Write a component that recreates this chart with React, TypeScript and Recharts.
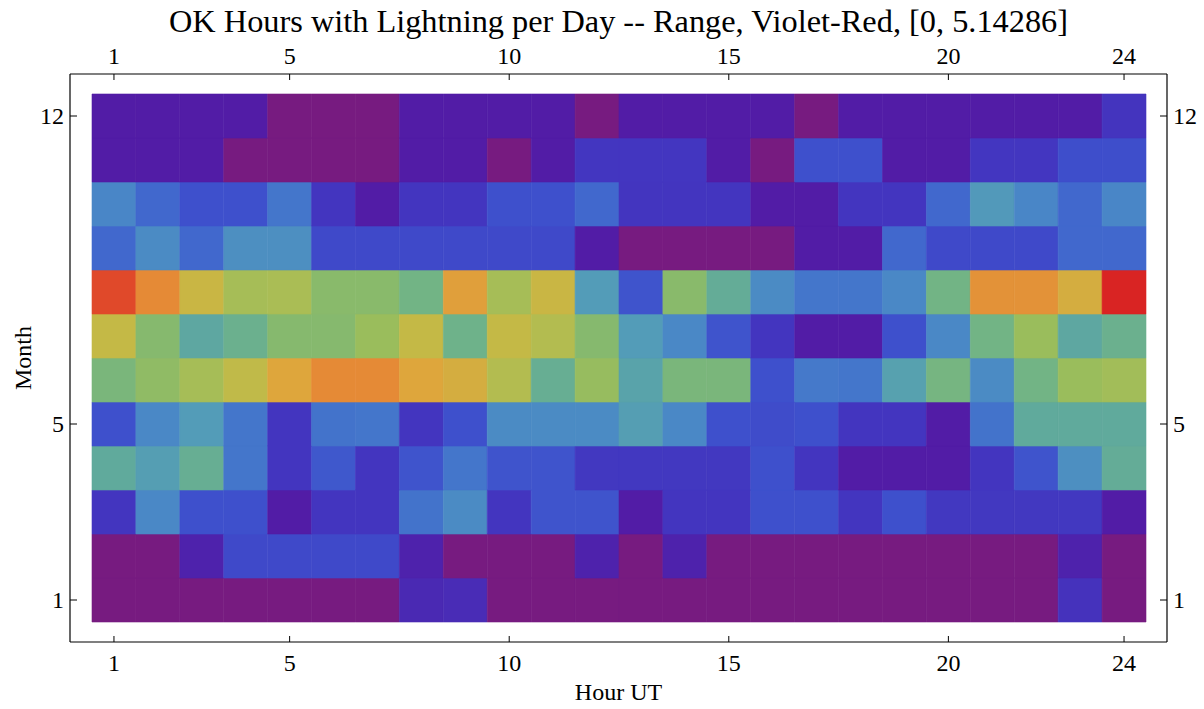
import React from "react";
import { ScatterChart, Scatter, XAxis, YAxis, ReferenceArea } from "recharts";

const TITLE = "OK Hours with Lightning per Day -- Range, Violet-Red, [0, 5.14286]";
const RANGE_MAX = 5.14286;

const HOURS = [1, 2, 3, 4, 5, 6, 7, 8, 9, 10, 11, 12, 13, 14, 15, 16, 17, 18, 19, 20, 21, 22, 23, 24];
const MONTHS = [1, 2, 3, 4, 5, 6, 7, 8, 9, 10, 11, 12];
const X_TICKS = [1, 5, 10, 15, 20, 24];
const Y_TICKS = [1, 5, 12];

// hours with lightning per day, one entry per UT hour (1..24)
const JAN = [0, 0, 0, 0, 0, 0, 0, 0.62, 0.67, 0, 0, 0, 0, 0, 0, 0, 0, 0, 0, 0, 0, 0, 0.77, 0];
const FEB = [0, 0, 0.51, 1.13, 1.13, 1.13, 1.13, 0.51, 0, 0, 0, 0.51, 0, 0.51, 0, 0, 0, 0, 0, 0, 0, 0, 0.51, 0];
const MAR = [0.82, 2.11, 1.23, 1.23, 0.41, 0.82, 0.82, 1.7, 2.16, 0.82, 1.29, 1.29, 0.41, 0.82, 0.82, 1.23, 1.23, 0.82, 1.23, 0.87, 0.87, 0.87, 0.87, 0.41];
const APR = [2.73, 2.47, 2.83, 1.75, 0.82, 1.34, 0.82, 1.29, 1.75, 1.29, 1.29, 0.87, 0.87, 0.87, 0.87, 1.23, 0.82, 0.41, 0.41, 0.41, 0.82, 1.29, 2.21, 2.78];
const MAY = [1.23, 2.11, 2.42, 1.75, 0.82, 1.7, 1.75, 0.82, 1.23, 2.16, 2.16, 2.16, 2.47, 2.11, 1.23, 1.18, 1.23, 0.82, 0.82, 0.41, 1.7, 2.73, 2.73, 2.73];
const JUN = [3.09, 3.39, 3.7, 4.01, 4.32, 4.53, 4.53, 4.32, 4.22, 3.86, 2.83, 3.5, 2.57, 3.09, 3.09, 1.23, 1.8, 1.75, 2.52, 3.03, 2.16, 2.98, 3.55, 3.65];
const JUL = [4.06, 3.24, 2.67, 2.88, 3.24, 3.24, 3.55, 4.06, 2.93, 4.06, 3.86, 3.24, 2.42, 2.11, 1.29, 0.82, 0.41, 0.41, 1.23, 2.11, 2.98, 3.55, 2.67, 2.88];
const AUG = [4.94, 4.53, 4.11, 3.7, 3.75, 3.29, 3.29, 2.98, 4.37, 3.7, 4.11, 2.42, 1.29, 3.29, 2.78, 2.16, 1.75, 1.75, 2.11, 2.98, 4.47, 4.47, 4.22, 5.14];
const SEP = [1.54, 2.16, 1.54, 2.21, 2.21, 1.13, 1.13, 1.13, 1.13, 1.13, 1.13, 0.41, 0, 0, 0, 0, 0.41, 0.41, 1.54, 1.13, 1.13, 1.13, 1.54, 1.54];
const OCT = [2.06, 1.54, 1.23, 1.23, 1.75, 0.82, 0.41, 0.82, 0.82, 1.23, 1.23, 1.54, 0.82, 0.82, 0.82, 0.41, 0.41, 0.82, 0.82, 1.54, 2.37, 2.06, 1.54, 2.06];
const NOV = [0.41, 0.41, 0.41, 0, 0, 0, 0, 0.41, 0.41, 0, 0.41, 0.84, 0.84, 0.84, 0.41, 0, 1.23, 1.23, 0.41, 0.41, 0.84, 0.84, 1.2, 1.2];
const DEC = [0.41, 0.41, 0.41, 0.41, 0, 0, 0, 0.41, 0.41, 0.41, 0.41, 0, 0.41, 0.41, 0.41, 0.41, 0, 0.41, 0.41, 0.41, 0.41, 0.41, 0.41, 0.8];
const BY_MONTH = [JAN, FEB, MAR, APR, MAY, JUN, JUL, AUG, SEP, OCT, NOV, DEC];

// violet -> red gradient, positions as fraction of the range
const STOPS: [number, string][] = [
  [0, "#771b80"],
  [0.08, "#521ca6"],
  [0.16, "#4335bf"],
  [0.24, "#3e50cc"],
  [0.3, "#4168cd"],
  [0.34, "#4476cb"],
  [0.41, "#4a88c6"],
  [0.47, "#539cb8"],
  [0.53, "#60aa9c"],
  [0.58, "#72b485"],
  [0.63, "#86b96e"],
  [0.69, "#9abd5c"],
  [0.73, "#aabd55"],
  [0.79, "#c4b946"],
  [0.84, "#dea63c"],
  [0.88, "#e58b36"],
  [0.96, "#e04a2a"],
  [1, "#d92323"],
];

const hex = (c: string) => [1, 3, 5].map((i) => parseInt(c.slice(i, i + 2), 16));

function colorFor(v: number) {
  const t = Math.min(1, Math.max(0, v / RANGE_MAX));
  for (let i = 1; i < STOPS.length; i++) {
    const [t1, c1] = STOPS[i];
    if (t <= t1) {
      const [t0, c0] = STOPS[i - 1];
      const k = (t - t0) / (t1 - t0);
      const a = hex(c0);
      const b = hex(c1);
      return `rgb(${a.map((x, j) => Math.round(x + (b[j] - x) * k)).join(",")})`;
    }
  }
  return STOPS[STOPS.length - 1][1];
}

const cells = MONTHS.flatMap((m, i) =>
  HOURS.map((h, j) => ({ hour: h, month: m, value: BY_MONTH[i][j] }))
);

const FONT = '"Liberation Serif", "Times New Roman", serif';

function AxisTick(props: any) {
  const { x, y, payload, side } = props;
  const v = payload.value;
  if (side === "bottom")
    return (
      <g>
        <line x1={x} y1={y} x2={x} y2={y - 6} stroke="#000" />
        <text x={x} y={y + 29} textAnchor="middle" fontSize={24} fontFamily={FONT} fill="#000">{v}</text>
      </g>
    );
  if (side === "top")
    return (
      <g>
        <line x1={x} y1={y} x2={x} y2={y + 6} stroke="#000" />
        <text x={x} y={y - 10} textAnchor="middle" fontSize={24} fontFamily={FONT} fill="#000">{v}</text>
      </g>
    );
  if (side === "left")
    return (
      <g>
        <line x1={x} y1={y} x2={x + 7} y2={y} stroke="#000" />
        <text x={x - 6} y={y + 8} textAnchor="end" fontSize={24} fontFamily={FONT} fill="#000">{v}</text>
      </g>
    );
  return (
    <g>
      <line x1={x} y1={y} x2={x - 7} y2={y} stroke="#000" />
      <text x={x + 6} y={y + 8} textAnchor="start" fontSize={24} fontFamily={FONT} fill="#000">{v}</text>
    </g>
  );
}

export default function App() {
  const xPad = { left: 22, right: 21 };
  const yPad = { top: 20, bottom: 20 };
  return (
    <div style={{ position: "absolute", left: 0, top: 0, background: "#fff" }}>
      <ScatterChart width={1204} height={709} margin={{ top: 0, right: 0, bottom: 0, left: 0 }}>
        <XAxis
          xAxisId="b"
          type="number"
          dataKey="hour"
          orientation="bottom"
          height={67}
          domain={[0.5, 24.5]}
          ticks={X_TICKS}
          interval={0}
          padding={xPad}
          axisLine={{ stroke: "#000", strokeWidth: 1.2 }}
          tickLine={false}
          tickSize={0}
          tickMargin={0}
          tick={(p: any) => <AxisTick {...p} side="bottom" />}
          label={{ value: "Hour UT", position: "insideBottom", offset: 9, fontSize: 24, fontFamily: FONT, fill: "#000" }}
        />
        <XAxis
          xAxisId="t"
          type="number"
          dataKey="hour"
          orientation="top"
          height={74}
          domain={[0.5, 24.5]}
          ticks={X_TICKS}
          interval={0}
          padding={xPad}
          axisLine={{ stroke: "#000", strokeWidth: 1.2 }}
          tickLine={false}
          tickSize={0}
          tickMargin={0}
          tick={(p: any) => <AxisTick {...p} side="top" />}
          label={{ value: TITLE, position: "insideTop", offset: 10, fontSize: 31, fontFamily: FONT, fill: "#000", textLength: 899, lengthAdjust: "spacingAndGlyphs" }}
        />
        <YAxis
          yAxisId="l"
          type="number"
          dataKey="month"
          orientation="left"
          width={70}
          domain={[0.5, 12.5]}
          ticks={Y_TICKS}
          interval={0}
          padding={yPad}
          axisLine={{ stroke: "#000", strokeWidth: 1.2 }}
          tickLine={false}
          tickSize={0}
          tickMargin={0}
          tick={(p: any) => <AxisTick {...p} side="left" />}
          label={{ value: "Month", angle: -90, position: "insideLeft", offset: 22, fontSize: 24, fontFamily: FONT, fill: "#000", style: { textAnchor: "middle" } }}
        />
        <YAxis
          yAxisId="r"
          type="number"
          dataKey="month"
          orientation="right"
          width={37}
          domain={[0.5, 12.5]}
          ticks={Y_TICKS}
          interval={0}
          padding={yPad}
          axisLine={{ stroke: "#000", strokeWidth: 1.2 }}
          tickLine={false}
          tickSize={0}
          tickMargin={0}
          tick={(p: any) => <AxisTick {...p} side="right" />}
        />
        {cells.map((c) => {
          const col = colorFor(c.value);
          return (
            <ReferenceArea
              key={`${c.month}-${c.hour}`}
              xAxisId="b"
              yAxisId="l"
              x1={c.hour - 0.5}
              x2={c.hour + 0.5}
              y1={c.month - 0.5}
              y2={c.month + 0.5}
              fill={col}
              fillOpacity={1}
              stroke={col}
              strokeWidth={0.6}
            />
          );
        })}
        <Scatter data={cells} xAxisId="b" yAxisId="l" isAnimationActive={false} shape={() => <g />} />
        <Scatter data={cells} xAxisId="t" yAxisId="r" isAnimationActive={false} shape={() => <g />} />
      </ScatterChart>
    </div>
  );
}
